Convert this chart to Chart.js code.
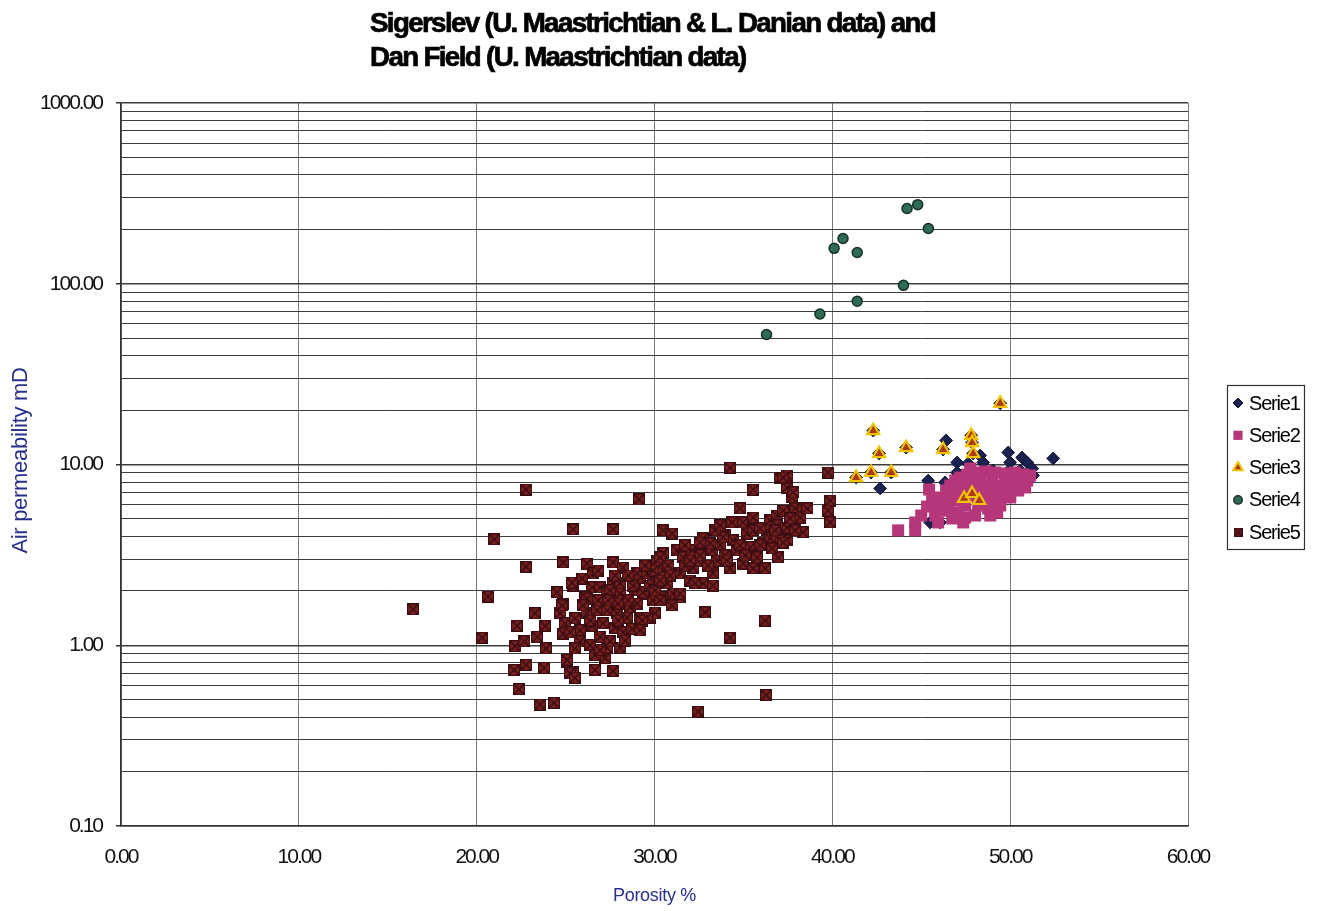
<!DOCTYPE html>
<html>
<head>
<meta charset="utf-8">
<script src="https://cdn.jsdelivr.net/npm/chart.js@4/dist/chart.umd.min.js"></script>
<style>
html,body{margin:0;padding:0;background:#fff;}
canvas{display:block;}
</style>
</head>
<body>
<canvas id="c" width="1319" height="911"></canvas>
<script>
const titleLines = ['Sigerslev (U. Maastrichtian & L. Danian data) and', 'Dan Field (U. Maastrichtian data)'];
const xAxisTitle = 'Porosity %';
const yAxisTitle = 'Air permeability mD';
const seriesNames = ['Serie1', 'Serie2', 'Serie3', 'Serie4', 'Serie5'];
const xTickValues = [0, 10, 20, 30, 40, 50, 60];
const yTickLabels = [0.1, 1, 10, 100, 1000];

const serie1Porosity = [42.69, 46.40, 52.42, 49.89, 50.00, 50.67, 50.96, 51.24, 51.29, 47.02, 47.02, 48.31, 48.48, 47.64, 49.04, 49.83, 45.39, 46.34, 45.50, 46.06, 50.56,
  49.44, 42.30, 47.81, 47.86, 44.15, 46.23, 42.63, 47.92, 41.34, 42.18, 43.31];
const serie1Permeability = [7.37, 13.58, 10.80, 11.65, 10.26, 10.93, 10.26, 9.50, 8.69, 10.26, 9.03, 11.21, 10.26, 10.13, 9.26, 9.03, 8.15, 7.96, 4.78, 4.78, 9.26,
  21.8, 15.4, 14.5, 13.2, 12.4, 12.1, 11.5, 11.5, 8.47, 9.03, 9.03];

const serie2Porosity = [43.70, 44.66, 44.66, 45.00, 45.33, 45.61, 45.44, 45.89, 45.78, 46.06, 46.40, 46.63, 46.91, 47.19, 47.58, 48.03, 48.59, 49.16, 49.72, 50.28,
  50.73, 50.96, 50.84, 50.45, 50.00, 49.44, 48.88, 48.20, 47.47, 46.91, 46.51, 47.08, 47.47, 48.03, 48.76, 49.44, 50.00, 50.56, 49.72, 49.16,
  48.59, 48.03, 47.47, 46.91, 46.34, 47.30, 47.86, 48.43, 48.99, 49.55, 50.11, 50.28, 49.72, 48.99, 48.31, 47.75, 47.08, 46.46, 46.18, 46.74,
  47.36, 45.95, 48.88, 49.27, 47.75, 51.12];
const serie2Permeability = [4.32, 4.32, 4.78, 5.22, 5.85, 6.49, 7.27, 5.93, 5.22, 6.57, 7.18, 7.65, 8.15, 8.47, 8.80, 9.03, 9.15, 9.03, 8.92, 9.03,
  8.80, 8.15, 7.46, 7.18, 6.74, 6.49, 6.32, 5.93, 5.93, 6.32, 5.71, 5.43, 5.09, 5.22, 5.71, 5.93, 6.57, 7.85, 7.65, 7.65,
  7.65, 7.65, 7.46, 7.00, 6.32, 6.74, 6.74, 6.74, 7.00, 7.18, 7.65, 8.37, 8.15, 8.37, 8.37, 8.15, 7.65, 6.74, 5.56, 5.03,
  4.78, 4.78, 5.22, 5.43, 9.50, 8.69];

const serie3Porosity = [49.44, 42.30, 47.81, 47.86, 44.15, 46.23, 42.63, 47.92, 41.34, 42.18, 43.31, 47.41, 47.86, 48.26];
const serie3Permeability = [21.8, 15.4, 14.5, 13.2, 12.4, 12.1, 11.5, 11.5, 8.47, 9.03, 9.03, 6.49, 6.91, 6.32];

const serie4Porosity = [36.3, 39.3, 40.1, 40.6, 41.4, 41.4, 44.0, 44.2, 44.8, 45.4];
const serie4Permeability = [52.4, 68, 157, 178, 149, 80, 98, 261, 274, 202];

const serie5Porosity = [16.42, 20.30, 20.98, 20.64, 22.78, 22.78, 23.28, 22.27, 22.16, 22.67, 22.10, 22.78, 23.79, 22.38, 23.57, 24.35, 23.40, 23.85, 23.90, 25.42,
  27.67, 29.13, 24.86, 24.52, 24.86, 24.69, 24.97, 24.86, 25.08, 25.42, 26.66, 27.67, 27.22, 27.33, 26.21, 27.67, 28.23, 25.93, 25.42, 26.49,
  26.10, 26.94, 27.33, 27.67, 28.07, 25.53, 26.21, 26.77, 27.33, 27.90, 25.82, 26.49, 27.11, 27.78, 28.23, 25.82, 26.94, 27.50, 28.80, 29.19,
  28.91, 29.58, 29.92, 28.63, 29.19, 29.75, 28.46, 29.92, 30.15, 30.48, 30.48, 30.71, 31.05, 30.43, 30.03, 30.48, 30.99, 31.27, 31.61, 31.44,
  32.00, 32.17, 31.44, 30.99, 32.11, 32.68, 32.73, 32.45, 33.24, 33.52, 33.30, 32.73, 32.28, 33.30, 32.85, 32.45, 34.25, 36.22, 36.28, 33.69,
  33.97, 34.42, 34.65, 34.36, 34.98, 35.21, 35.55, 35.55, 35.38, 34.98, 34.25, 35.55, 36.22, 35.77, 36.11, 36.33, 36.50, 36.90, 37.23, 37.46,
  37.46, 37.06, 36.95, 36.90, 37.91, 38.36, 38.19, 38.36, 37.74, 37.46, 37.06, 37.46, 35.55, 34.81, 34.25, 39.76, 39.88, 39.76, 39.88, 37.80,
  37.23, 38.58, 35.94, 37.23, 33.13, 32.56, 25.36, 26.55, 24.80, 26.21, 27.50, 28.07, 25.25, 25.53, 25.08, 29.02, 29.58, 29.92, 30.31, 29.36,
  30.31, 29.02, 29.58, 29.30, 31.44, 33.86, 28.80, 26.38, 28.07, 26.66, 28.52, 26.83, 27.95, 25.53, 25.25, 28.74, 31.72, 33.01, 33.97, 34.81,
  36.50, 29.75, 30.77, 26.83, 28.52, 29.47, 27.95, 26.38, 26.94, 28.35, 25.98, 27.39, 29.19, 30.03, 30.88, 31.72, 32.56, 33.41, 34.08, 35.10,
  35.94, 36.61, 36.78, 37.63, 37.91, 33.69, 32.00, 30.31, 27.78];
const serie5Permeability = [1.58, 1.10, 3.85, 1.86, 7.27, 2.72, 1.50, 1.28, 0.99, 1.05, 0.73, 0.78, 0.75, 0.57, 0.47, 0.48, 1.11, 1.28, 0.96, 4.37,
  4.37, 6.41, 2.87, 1.96, 1.70, 1.50, 1.32, 1.16, 0.81, 0.71, 0.73, 0.72, 0.85, 0.97, 2.83, 2.87, 2.69, 2.34, 2.14, 2.09,
  1.84, 2.09, 1.96, 2.20, 1.93, 1.41, 1.50, 1.56, 1.56, 1.50, 1.21, 1.28, 1.32, 1.25, 1.18, 1.05, 1.11, 1.05, 2.28, 2.37,
  2.01, 1.93, 1.77, 1.62, 1.41, 1.42, 1.42, 2.37, 2.94, 3.22, 2.59, 2.20, 1.93, 1.84, 1.50, 4.32, 4.15, 3.35, 3.06, 2.50,
  2.28, 2.69, 1.84, 1.66, 3.35, 3.66, 3.90, 2.94, 3.35, 2.94, 2.50, 2.20, 2.20, 2.14, 1.52, 0.43, 1.10, 1.37, 0.53, 3.57,
  4.05, 3.80, 3.35, 4.78, 4.78, 4.15, 5.09, 4.32, 3.48, 2.83, 2.66, 2.66, 2.66, 3.06, 3.66, 4.32, 4.90, 5.22, 5.56, 4.48,
  3.80, 3.80, 3.06, 4.60, 5.71, 5.71, 5.09, 4.21, 6.57, 7.46, 8.37, 8.69, 7.27, 5.71, 9.62, 9.03, 6.32, 5.56, 4.78, 7.00,
  8.47, 5.71, 4.43, 3.70, 3.66, 3.70, 2.22, 2.50, 1.66, 1.81, 2.01, 2.20, 0.70, 0.66, 0.83, 2.50, 2.50, 2.59, 3.06, 1.96,
  1.77, 1.70, 1.42, 1.37, 1.93, 3.95, 2.14, 1.00, 0.97, 0.88, 1.77, 1.77, 1.70, 0.96, 1.18, 1.23, 2.76, 2.76, 3.14, 3.57,
  3.90, 2.14, 2.76, 2.59, 2.43, 2.76, 1.37, 1.37, 0.94, 1.06, 1.66, 1.77, 1.21, 2.01, 2.43, 3.57, 3.14, 4.32, 2.94, 3.14,
  3.57, 3.43, 4.32, 5.03, 4.32, 4.60, 2.94, 2.28, 2.43];

const FONT = "'Liberation Sans Narrow', 'Arial Narrow', 'Liberation Sans', Arial, sans-serif";

function pairs(xs, ys) { return xs.map((x, i) => ({ x: x, y: ys[i] })); }

function makeXSquare(size) {
  const c = document.createElement('canvas');
  c.width = size; c.height = size;
  const g = c.getContext('2d');
  g.fillStyle = '#7a2220';
  g.fillRect(0, 0, size, size);
  g.strokeStyle = '#3a0c12';
  g.lineWidth = 1.6;
  g.beginPath();
  g.moveTo(1, 1); g.lineTo(size - 1, size - 1);
  g.moveTo(size - 1, 1); g.lineTo(1, size - 1);
  g.stroke();
  g.lineWidth = 1.2;
  g.strokeRect(0.6, 0.6, size - 1.2, size - 1.2);
  return c;
}
const xSquareBig = makeXSquare(12);
const xSquareSmall = makeXSquare(9);

const yGridValues = [];
for (let e = -1; e <= 2; e++) {
  for (let m = 1; m <= 9; m++) yGridValues.push(Number((m * Math.pow(10, e)).toPrecision(4)));
}
yGridValues.push(1000);

const datasets = [
  { label: seriesNames[0], data: pairs(serie1Porosity, serie1Permeability), order: 5,
    pointStyle: 'rectRot', pointRadius: 6.4, backgroundColor: '#1b2250', borderColor: '#11163a', borderWidth: 1,
    legendStyle: { style: 'rectRot', r: 5, fill: '#1b2250', stroke: '#11163a', bw: 1 } },
  { label: seriesNames[1], data: pairs(serie2Porosity, serie2Permeability), order: 4,
    pointStyle: 'rect', pointRadius: 8.5, backgroundColor: '#b5377a', borderColor: '#b5377a', borderWidth: 0,
    legendStyle: { style: 'rect', r: 6.5, fill: '#b5377a', stroke: '#b5377a', bw: 0 } },
  { label: seriesNames[2], data: pairs(serie3Porosity, serie3Permeability), order: 3,
    pointStyle: 'triangle', pointRadius: 7, backgroundColor: '#a83a1e', borderColor: '#f3c300', borderWidth: 2.2,
    legendStyle: { style: 'triangle', r: 5.5, fill: '#a83a1e', stroke: '#f3c300', bw: 2 } },
  { label: seriesNames[3], data: pairs(serie4Porosity, serie4Permeability), order: 2,
    pointStyle: 'circle', pointRadius: 5, backgroundColor: '#2f6a52', borderColor: '#16302a', borderWidth: 1.5,
    legendStyle: { style: 'circle', r: 4.2, fill: '#2f6a52', stroke: '#16302a', bw: 1.5 } },
  { label: seriesNames[4], data: pairs(serie5Porosity, serie5Permeability), order: 1,
    pointStyle: xSquareBig, pointRadius: 6, backgroundColor: '#7a2220', borderColor: '#3a0c12', borderWidth: 0,
    legendStyle: { style: xSquareSmall, r: 5, fill: '#7a2220', stroke: '#3a0c12', bw: 0 } }
];

const spacingPlugin = {
  id: 'tightText',
  beforeDraw(chart) { chart.ctx.letterSpacing = '-2px'; }
};

const textPlugin = {
  id: 'texts',
  afterDraw(chart) {
    const ctx = chart.ctx;
    const area = chart.chartArea;
    // main title
    ctx.save();
    ctx.letterSpacing = '-1.6px';
    ctx.font = 'bold 27px ' + FONT;
    ctx.fillStyle = '#000';
    ctx.strokeStyle = '#000';
    ctx.lineWidth = 0.7;
    ctx.textBaseline = 'alphabetic';
    ctx.textAlign = 'left';
    const w = ctx.measureText(titleLines[0]).width;
    const sx = 565 / w;
    ctx.translate(370, 0);
    ctx.scale(sx, 1);
    ctx.fillText(titleLines[0], 0, 32);
    ctx.strokeText(titleLines[0], 0, 32);
    ctx.fillText(titleLines[1], 0, 66);
    ctx.strokeText(titleLines[1], 0, 66);
    ctx.restore();
    // axis titles
    ctx.save();
    ctx.letterSpacing = '-0.3px';
    ctx.fillStyle = '#27308a';
    ctx.textAlign = 'center';
    ctx.textBaseline = 'middle';
    ctx.font = '18px ' + FONT;
    ctx.fillText(xAxisTitle, (area.left + area.right) / 2, 896);
    ctx.translate(21, (area.top + area.bottom) / 2 - 4);
    ctx.rotate(-Math.PI / 2);
    ctx.font = '22px ' + FONT;
    ctx.fillText(yAxisTitle, 0, 0);
    ctx.restore();
    // legend
    const bx = 1227, by = 385, bw = 77, bh = 164;
    ctx.save();
    ctx.fillStyle = '#fff';
    ctx.fillRect(bx, by, bw, bh);
    ctx.strokeStyle = '#333';
    ctx.lineWidth = 1.2;
    ctx.strokeRect(bx + 0.5, by + 0.5, bw, bh);
    chart.data.datasets.forEach((ds, i) => {
      const cy = by + 18 + i * 32.3;
      const cx = bx + 11;
      const ls = ds.legendStyle;
      ctx.save();
      ctx.fillStyle = ls.fill;
      ctx.strokeStyle = ls.stroke;
      ctx.lineWidth = ls.bw;
      Chart.helpers.drawPoint(ctx, { pointStyle: ls.style, radius: ls.r, borderWidth: ls.bw, rotation: 0 }, cx, cy);
      ctx.restore();
      ctx.letterSpacing = '-1.2px';
      ctx.fillStyle = '#000';
      ctx.font = '20px ' + FONT;
      ctx.textBaseline = 'middle';
      ctx.textAlign = 'left';
      ctx.fillText(ds.label, bx + 22, cy + 1);
    });
    ctx.restore();
  }
};

const isLabelled = v => yTickLabels.some(t => Math.abs(t - v) < 1e-9);

new Chart(document.getElementById('c').getContext('2d'), {
  type: 'scatter',
  data: { datasets: datasets },
  options: {
    responsive: false,
    animation: false,
    devicePixelRatio: 1,
    events: [],
    layout: { padding: { top: 103, right: 131, bottom: 0, left: 0 } },
    plugins: { legend: { display: false }, tooltip: { enabled: false }, title: { display: false } },
    scales: {
      x: {
        type: 'linear', min: 0, max: 60,
        afterFit: s => { s.height = 85; },
        afterBuildTicks: s => { s.ticks = xTickValues.map(v => ({ value: v })); },
        ticks: { callback: v => Number(v).toFixed(2), autoSkip: false, maxRotation: 0, padding: 19, color: '#111', font: { family: FONT, size: 21 } },
        grid: { color: '#777', lineWidth: 1, drawTicks: false },
        border: { color: '#333', width: 1.5 },
        title: { display: false }
      },
      y: {
        type: 'logarithmic', min: 0.1, max: 1000,
        afterFit: s => { s.width = 121; },
        afterBuildTicks: s => { s.ticks = yGridValues.map(v => ({ value: v })); },
        ticks: { callback: v => isLabelled(v) ? Number(v).toFixed(2) : '', autoSkip: false, padding: 14, color: '#111', font: { family: FONT, size: 21 } },
        grid: {
          color: '#3c3c3c',
          lineWidth: c => (c.tick && isLabelled(c.tick.value)) ? 1.5 : 1,
          tickLength: 5,
          tickColor: c => (c.tick && isLabelled(c.tick.value)) ? '#333' : 'rgba(0,0,0,0)'
        },
        border: { color: '#333', width: 1.5 },
        title: { display: false }
      }
    }
  },
  plugins: [spacingPlugin, textPlugin]
});
</script>
</body>
</html>
